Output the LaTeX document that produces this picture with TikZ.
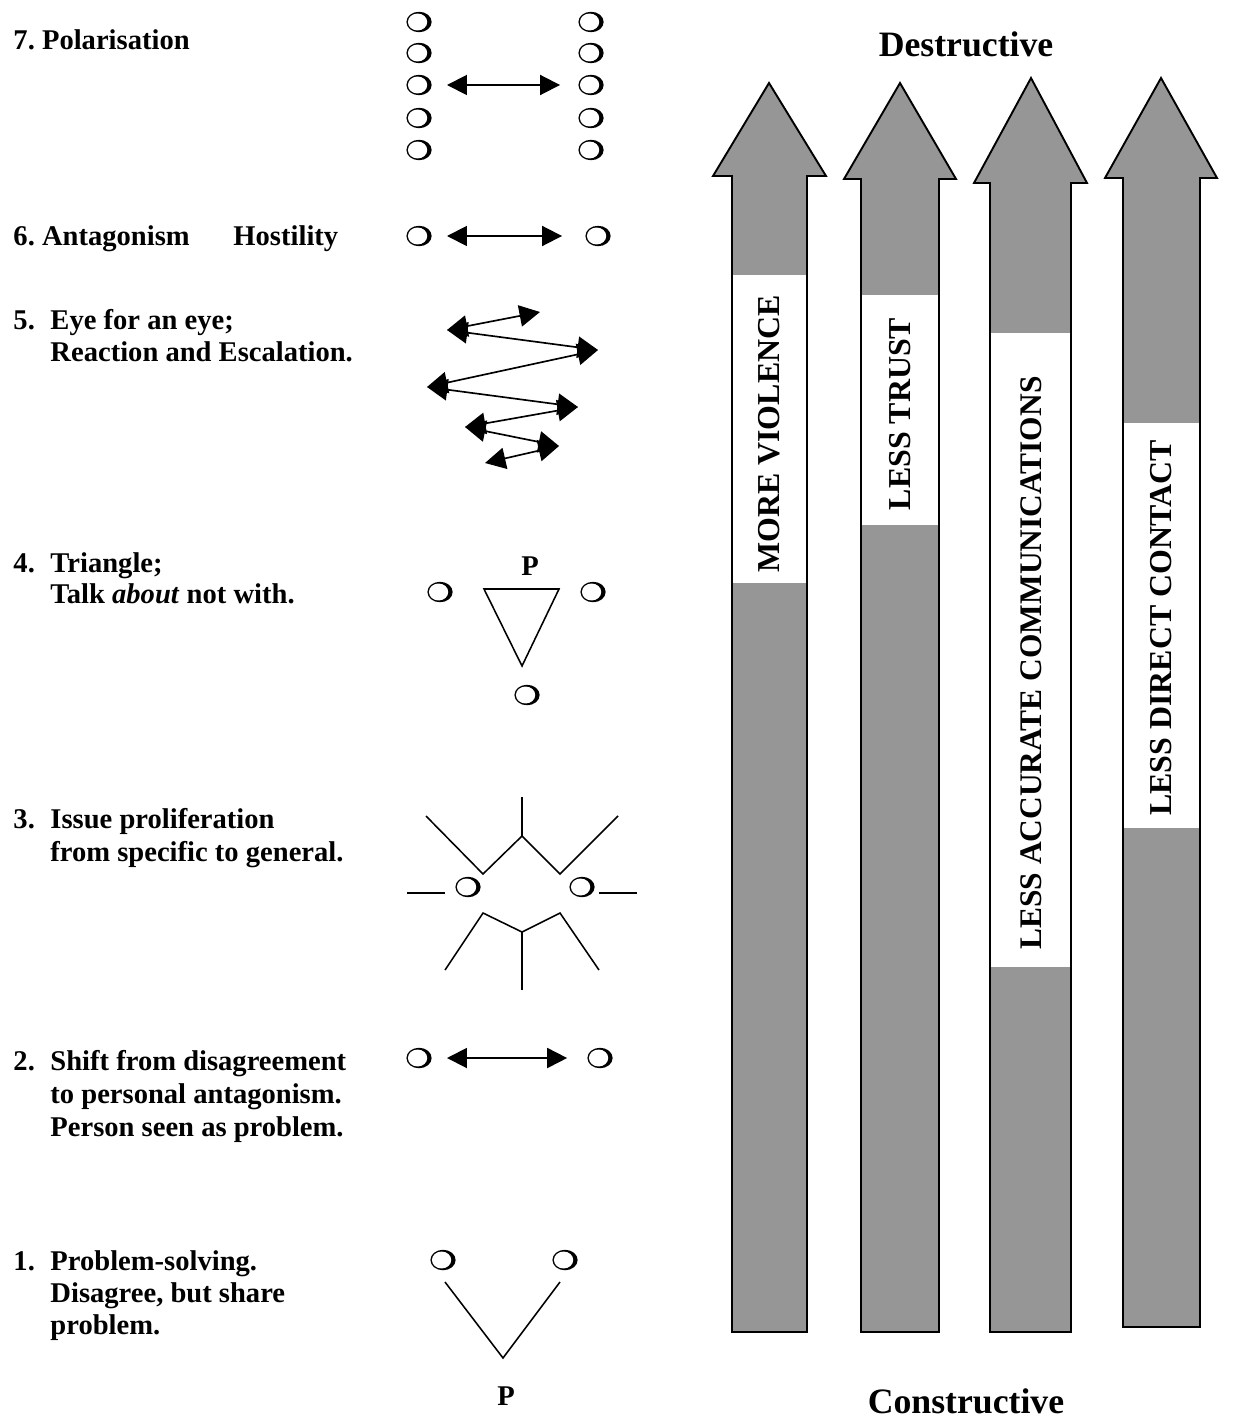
\documentclass[tikz,border=0pt]{standalone}
\usepackage{fontspec}
\setmainfont{Liberation Serif}
\usetikzlibrary{arrows.meta}
\definecolor{arrgray}{RGB}{150,150,150}
\frenchspacing
\begin{document}
\begin{tikzpicture}[x=0.42pt,y=-0.42pt,
  lbl/.style={anchor=base west, inner sep=0pt, font=\fontsize{12}{14}\selectfont\bfseries},
  ttl/.style={anchor=base, inner sep=0pt, font=\fontsize{15}{18}\selectfont\bfseries},
  vlbl/.style={rotate=90, inner sep=0pt, font=\fontsize{13.4}{16}\selectfont\bfseries},
  circ/.style={minimum width=12pt, minimum height=10pt, inner sep=0pt, outer sep=0pt},
  sc/.pic={
      \fill (0pt,0pt) ellipse [x radius=5.3pt, y radius=4.3pt];
      \fill[white] (-0.6pt,0pt) ellipse [x radius=4.05pt, y radius=3.55pt];},
  dbl/.style={{Triangle[length=8.4pt,width=8.4pt]}-{Triangle[length=8.4pt,width=8.4pt]}, line width=0.8pt},
  zz/.style={{Triangle[length=8.6pt,width=9pt]}-{Triangle[length=8.6pt,width=9pt]}, line width=0.7pt},
  ln/.style={line width=0.65pt},
  bigarr/.style={line width=0.8pt, draw=black}
]
\useasboundingbox (0,0) rectangle (1238,1418);

% ---------- left labels ----------
\node[lbl] (n7) at (13,50) {7. Polarisation};
\node[lbl] (n6) at (13,246) {6. Antagonism};
\node[lbl] (h6) at (233,246) {Hostility};
\node[lbl] (n5) at (13,329) {5.};
\node[lbl] (t5a) at (50,329) {Eye for an eye;};
\node[lbl] (t5b) at (50,361) {Reaction and Escalation.};
\node[lbl] (n4) at (13,572) {4.};
\node[lbl] (t4a) at (50,572) {Triangle;};
\node[lbl] (t4b) at (50,603) {Talk \textit{about} not with.};
\node[lbl] (n3) at (13,828) {3.};
\node[lbl] (t3a) at (50,828) {Issue proliferation};
\node[lbl] (t3b) at (50,861) {from specific to general.};
\node[lbl] (n2) at (13,1070) {2.};
\node[lbl] (t2a) at (50,1070) {Shift from disagreement};
\node[lbl] (t2b) at (50,1103) {to personal antagonism.};
\node[lbl] (t2c) at (50,1136) {Person seen as problem.};
\node[lbl] (n1) at (13,1270) {1.};
\node[lbl] (t1a) at (50,1270) {Problem-solving.};
\node[lbl] (t1b) at (50,1302) {Disagree, but share};
\node[lbl] (t1c) at (50,1334) {problem.};

% ---------- 7. polarisation ----------
\foreach \i/\yy in {1/22,2/53,3/85,4/118,5/150}{
  \node[circ] (pl\i) at (419,\yy) {};
  \node[circ] (pr\i) at (591,\yy) {};
  \pic at (pl\i) {sc};
  \pic at (pr\i) {sc};
}
\draw[dbl, shorten <=5.75pt, shorten >=7pt] (pl3) -- (pr3);

% ---------- 6. antagonism ----------
\node[circ] (al) at (419,236) {};
\node[circ] (ar) at (598,236) {};
\pic at (al) {sc};
\pic at (ar) {sc};
\draw[dbl, shorten <=5.75pt, shorten >=9.1pt] (al) -- (ar);

% ---------- 5. zigzag ----------
\coordinate (z1) at (447,330);
\coordinate (z2) at (540,312);
\coordinate (z3) at (598,350);
\coordinate (z4) at (427,387);
\coordinate (z5) at (578,407);
\coordinate (z6) at (465,427);
\coordinate (z7) at (559,446);
\coordinate (z8) at (485,463);
\draw[zz] (z1) -- (z2);
\draw[zz] (z1) -- (z3);
\draw[zz] (z3) -- (z4);
\draw[zz] (z4) -- (z5);
\draw[zz] (z5) -- (z6);
\draw[zz] (z6) -- (z7);
\draw[zz] (z7) -- (z8);

% ---------- 4. triangle ----------
\node[lbl, anchor=base] (p4) at (530,575) {P};
\node[circ] (tl) at (440,592) {};
\node[circ] (tr) at (593,592) {};
\node[circ] (tb) at (527,695) {};
\pic at (tl) {sc};
\pic at (tr) {sc};
\pic at (tb) {sc};
\coordinate (tri1) at (484,589);
\coordinate (tri2) at (559,589);
\coordinate (tri3) at (522,666);
\draw[ln] (tri1) -- (tri2) -- (tri3) -- cycle;

% ---------- 3. issue proliferation ----------
\node[circ] (il) at (468,887) {};
\node[circ] (ir) at (582,887) {};
\pic at (il) {sc};
\pic at (ir) {sc};
\coordinate (a1) at (522,797);
\coordinate (a2) at (522,836);
\coordinate (a3) at (483,874);
\coordinate (a4) at (560,874);
\coordinate (a5) at (426,816);
\coordinate (a6) at (618,816);
\draw[ln] (a5) -- (a3) -- (a2) -- (a4) -- (a6);
\draw[ln] (a1) -- (a2);
\coordinate (hl) at (407,893);
\coordinate (hr) at (637,893);
\draw[ln] (hl) -- ++(38,0);
\draw[ln] (hr) -- ++(-38,0);
\coordinate (b1) at (483,913);
\coordinate (b2) at (522,932);
\coordinate (b3) at (560,913);
\coordinate (b4) at (522,990);
\coordinate (b5) at (445,970);
\coordinate (b6) at (599,970);
\draw[ln] (b5) -- (b1) -- (b2) -- (b3) -- (b6);
\draw[ln] (b2) -- (b4);

% ---------- 2. shift ----------
\node[circ] (sl) at (419,1058) {};
\node[circ] (sr) at (600,1058) {};
\pic at (sl) {sc};
\pic at (sr) {sc};
\draw[dbl, shorten <=5.75pt, shorten >=7.8pt] (sl) -- (sr);

% ---------- 1. problem solving ----------
\node[circ] (vl) at (443,1260) {};
\node[circ] (vr) at (565,1260) {};
\pic at (vl) {sc};
\pic at (vr) {sc};
\coordinate (v1) at (445,1282);
\coordinate (v2) at (503,1358);
\coordinate (v3) at (560,1282);
\draw[ln] (v1) -- (v2) -- (v3);
\node[lbl, anchor=base] (p1) at (506,1405) {P};

% ---------- big arrows ----------
% arrow 1
\fill[arrgray] (732,1332) -- (732,176) -- (713,176) -- (769,83) -- (826,176) -- (807,176) -- (807,1332) -- cycle;
\fill[white] (732,275) rectangle (807,583);
\draw[bigarr] (732,1332) -- (732,176) -- (713,176) -- (769,83) -- (826,176) -- (807,176) -- (807,1332) -- cycle;
\node[vlbl] (l1) at (769.5,434) {MORE VIOLENCE};
% arrow 2
\fill[arrgray] (861,1332) -- (861,179) -- (844,179) -- (900,83) -- (956,179) -- (939,179) -- (939,1332) -- cycle;
\fill[white] (861,295) rectangle (939,525);
\draw[bigarr] (861,1332) -- (861,179) -- (844,179) -- (900,83) -- (956,179) -- (939,179) -- (939,1332) -- cycle;
\node[vlbl] (l2) at (900,414) {LESS TRUST};
% arrow 3
\fill[arrgray] (990,1332) -- (990,183) -- (974,183) -- (1031,78) -- (1087,183) -- (1071,183) -- (1071,1332) -- cycle;
\fill[white] (990,333) rectangle (1071,967);
\draw[bigarr] (990,1332) -- (990,183) -- (974,183) -- (1031,78) -- (1087,183) -- (1071,183) -- (1071,1332) -- cycle;
\node[vlbl, font=\fontsize{13.2}{15}\selectfont\bfseries] (l3) at (1031,663) {LESS ACCURATE COMMUNICATIONS};
% arrow 4
\fill[arrgray] (1123,1327) -- (1123,178) -- (1105,178) -- (1161,78) -- (1217,178) -- (1200,178) -- (1200,1327) -- cycle;
\fill[white] (1123,423) rectangle (1200,828);
\draw[bigarr] (1123,1327) -- (1123,178) -- (1105,178) -- (1161,78) -- (1217,178) -- (1200,178) -- (1200,1327) -- cycle;
\node[vlbl] (l4) at (1161.5,628) {LESS DIRECT CONTACT};

% ---------- titles ----------
\node[ttl] (dest) at (966,57) {Destructive};
\node[ttl] (cons) at (966,1413) {Constructive};
\end{tikzpicture}
\end{document}
